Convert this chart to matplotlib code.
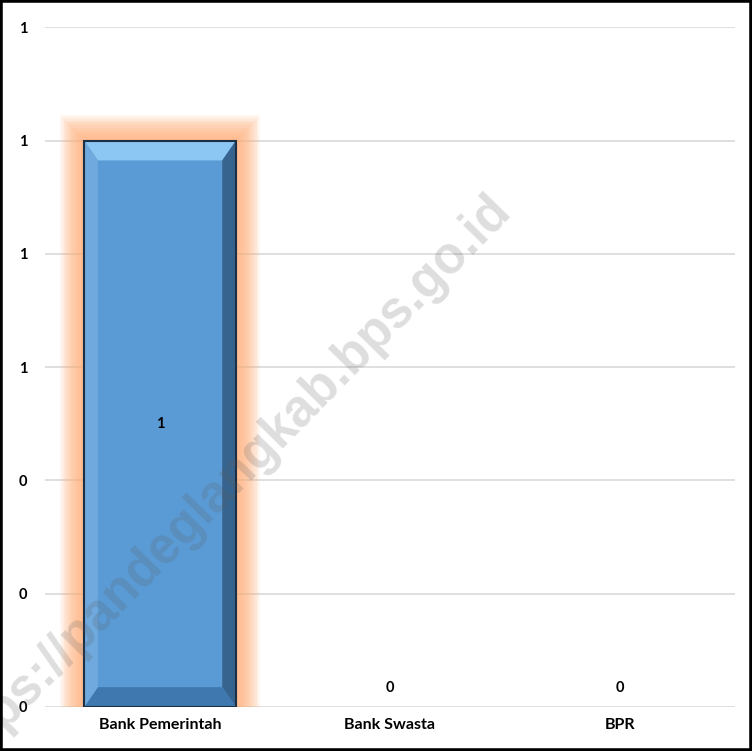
import numpy as np
import matplotlib.pyplot as plt
from matplotlib.patches import Rectangle, Polygon
from matplotlib.ticker import FormatStrFormatter

# data
categories = ["Bank Pemerintah", "Bank Swasta", "BPR"]
values = [1, 0, 0]
yticks = [0, 0.2, 0.4, 0.6, 0.8, 1.0, 1.2]

plt.rcParams['font.family'] = ['Lato', 'DejaVu Sans']

fig = plt.figure(figsize=(7.52, 7.51), dpi=100)
ax = fig.add_axes([0.06, 0.0586, 0.917, 0.905])

x = np.arange(len(categories))
width = 0.66

# orange glow behind the bars
n = 14
for v, xi in zip(values, x):
    if v <= 0:
        continue
    for i in range(n):
        padx = 0.0075 * (n - i)
        pady = 0.0032 * (n - i)
        ax.add_patch(Rectangle((xi - width / 2 - padx, 0), width + 2 * padx, v + pady,
                               facecolor='#FFB07A', edgecolor='none', alpha=0.11, zorder=1))

bars = ax.bar(x, values, width=width, color='#5B9BD5', edgecolor='none', zorder=3)

# simple bevel on the bars
for b in bars:
    h = b.get_height()
    if h <= 0:
        continue
    x0, w = b.get_x(), b.get_width()
    dx, dy = w * 0.09, 0.035
    ax.add_patch(Polygon([(x0, h), (x0 + w, h), (x0 + w - dx, h - dy), (x0 + dx, h - dy)],
                         closed=True, facecolor='#8CC6F2', edgecolor='none', zorder=4))
    ax.add_patch(Polygon([(x0 + w, h), (x0 + w, 0), (x0 + w - dx, dy), (x0 + w - dx, h - dy)],
                         closed=True, facecolor='#36648F', edgecolor='none', zorder=4))
    ax.add_patch(Polygon([(x0, 0), (x0 + w, 0), (x0 + w - dx, dy), (x0 + dx, dy)],
                         closed=True, facecolor='#3E78AE', edgecolor='none', zorder=4))
    ax.add_patch(Polygon([(x0, h), (x0, 0), (x0 + dx, dy), (x0 + dx, h - dy)],
                         closed=True, facecolor='#6FA9DE', edgecolor='none', zorder=4))
    ax.add_patch(Rectangle((x0, 0), w, h, facecolor='none', edgecolor='#1B2F45',
                           linewidth=1.5, zorder=5))

# value labels
for v, xi in zip(values, x):
    if v > 0:
        ax.text(xi, v / 2, str(v), ha='center', va='center', fontsize=10.5,
                fontweight='bold', color='black', zorder=6)
    else:
        ax.text(xi, 0.033, str(v), ha='center', va='center', fontsize=10.5,
                fontweight='bold', color='black', zorder=6)

ax.set_xlim(-0.5, 2.5)
ax.set_ylim(0, 1.2)
ax.set_yticks(yticks)
ax.yaxis.set_major_formatter(FormatStrFormatter('%.0f'))
ax.set_xticks(x)
ax.set_xticklabels(categories, fontsize=11.5, fontweight='bold')
for lab in ax.get_yticklabels():
    lab.set_fontweight('bold')
    lab.set_fontsize(10.5)
ax.tick_params(axis='x', length=0, pad=8)
ax.tick_params(axis='y', length=0, pad=13)
ax.grid(axis='y', color='#D9D9D9', linewidth=1.2, zorder=0)
ax.set_axisbelow(True)
for s in ax.spines.values():
    s.set_visible(False)

# watermark (runs off the left edge like in the original)
fig.text(0.30, 0.355, "https://pandeglangkab.bps.go.id", rotation=45.5, fontsize=37,
         fontweight='bold', family='Liberation Sans', color='#5A5A5A', alpha=0.2,
         ha='center', va='center', zorder=10)

# black frame
fig.patches.append(Rectangle((0, 0), 1, 1, transform=fig.transFigure, fill=False,
                             edgecolor='black', linewidth=4, zorder=20))

fig.savefig("out.png", dpi=100)
